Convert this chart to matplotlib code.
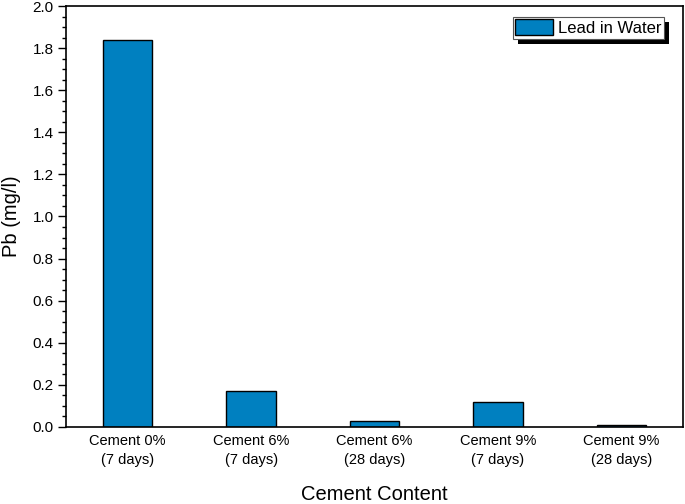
import numpy as np
import matplotlib.pyplot as plt
from matplotlib.patches import Rectangle
from matplotlib.ticker import MultipleLocator

plt.rcParams['font.family'] = ['Liberation Sans', 'DejaVu Sans']

categories = ['Cement 0%\n(7 days)', 'Cement 6%\n(7 days)', 'Cement 6%\n(28 days)',
              'Cement 9%\n(7 days)', 'Cement 9%\n(28 days)']
lead_in_water = [1.84, 0.17, 0.03, 0.12, 0.01]

fig = plt.figure(figsize=(6.85, 5.04), dpi=100)
ax = fig.add_axes([66 / 685, 1 - 427 / 504, 617 / 685, 421 / 504])

x = np.arange(len(categories))
ax.bar(x, lead_in_water, width=0.4, color='#0080C0', edgecolor='black',
       linewidth=1.0, label='Lead in Water', zorder=2)

ax.set_xlim(-0.5, 4.5)
ax.set_ylim(0, 2.0)
ax.set_xticks(x)
ax.set_xticklabels(categories, fontsize=10.5, linespacing=1.5)
ax.yaxis.set_major_locator(MultipleLocator(0.2))
ax.yaxis.set_minor_locator(MultipleLocator(0.05))
ax.tick_params(axis='x', length=0, pad=5)
ax.tick_params(axis='y', which='major', length=6, width=1, direction='out',
               labelsize=11, pad=3)
ax.tick_params(axis='y', which='minor', length=3, width=1, direction='out')
for s in ax.spines.values():
    s.set_linewidth(1.2)

ax.set_ylabel('Pb (mg/l)', fontsize=14.5, labelpad=8)
ax.set_xlabel('Cement Content', fontsize=14.5, labelpad=13)

leg = ax.legend(loc='upper right', bbox_to_anchor=(0.969, 0.974), borderaxespad=0,
                fontsize=12, handlelength=2.25, handleheight=1.1, handletextpad=0.3,
                borderpad=0.15, fancybox=False, framealpha=1, edgecolor='#555555')
leg.get_frame().set_linewidth(0.8)
leg.set_zorder(6)

# hard drop shadow behind the legend
fig.canvas.draw()
bb = leg.get_window_extent()
off = 5
shadow = Rectangle((bb.x0 + off, bb.y0 - off), bb.width, bb.height,
                   transform=None, facecolor='black', edgecolor='none', zorder=5)
ax.add_artist(shadow)

fig.savefig('out.png', dpi=100)
